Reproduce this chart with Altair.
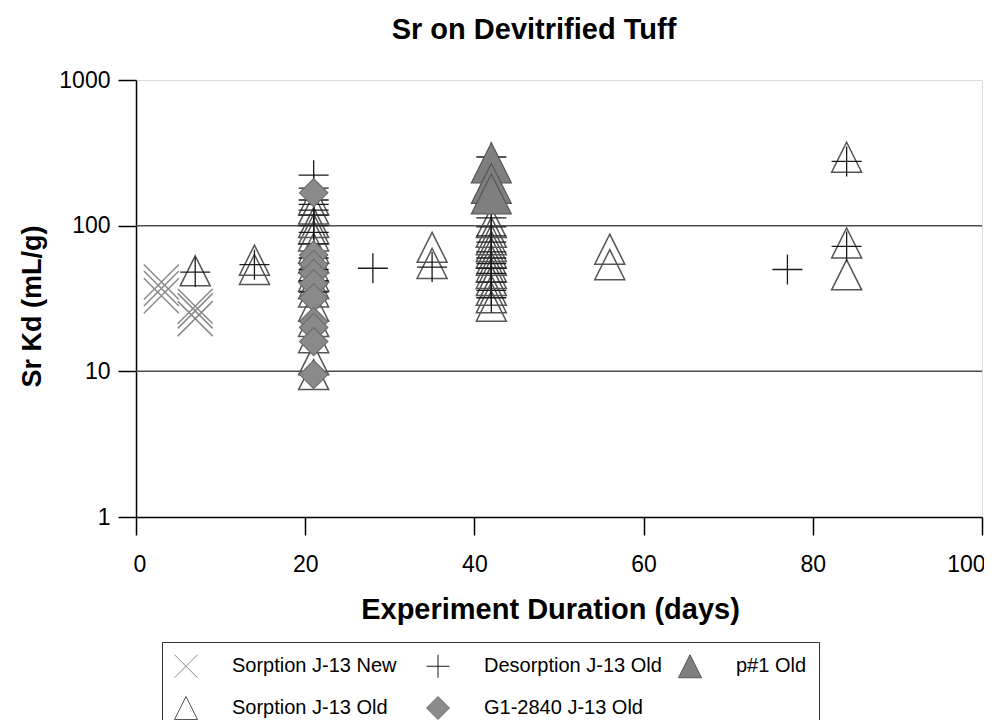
import altair as alt
import pandas as pd

SERIES = ["Sorption J-13 New", "Desorption J-13 Old", "p#1 Old",
          "Sorption J-13 Old", "G1-2840 J-13 Old"]

# Sorption J-13 New (x markers)
sn_days = [3, 3, 3, 7, 7, 7]
sn_kd = [41, 37, 33, 28, 26, 23]

# Sorption J-13 Old (open triangles)
so_days = [7, 14, 14,
           21, 21, 21, 21, 21, 21, 21, 21, 21, 21, 21, 21, 21, 21, 21, 21,
           35, 35,
           42, 42, 42, 42, 42, 42, 42, 42, 42, 42, 42, 42,
           56, 56, 84, 84, 84]
so_kd = [49, 58, 50,
         150, 130, 105, 95, 85, 70, 60, 52, 45, 40, 35, 28, 22, 17, 12, 9.5,
         71, 55,
         105, 90, 80, 72, 65, 58, 52, 47, 42, 36, 32, 28,
         69, 54, 295, 76, 46]

# Desorption J-13 Old (plus markers)
de_days = [7, 14,
           21, 21, 21, 21, 21, 21, 21, 21, 21, 21, 21, 21, 21,
           28, 35,
           42, 42, 42, 42, 42, 42, 42, 42, 42, 42, 42, 42, 42,
           77, 84, 84]
de_kd = [48, 54,
         222, 181, 150, 140, 128, 118, 100, 90, 75, 60, 50, 42, 35,
         51, 52,
         296, 113, 98, 85, 77, 66, 60, 55, 51, 47, 41, 36, 32,
         50, 276, 72]

# G1-2840 J-13 Old (filled diamonds)
g1_days = [21, 21, 21, 21, 21, 21, 21, 21, 21, 21]
g1_kd = [168, 63, 54, 47, 40, 32, 22, 20, 16, 9.5]

# p#1 Old (filled triangles)
p1_days = [42, 42, 42]
p1_kd = [270, 195, 165]

grid_kd = [10, 100]

X_PATH = "M-1,-1L1,1M-1,1L1,-1"
PLUS_PATH = "M-1,0L1,0M0,-1L0,1"
TRI_PATH = "M0,-1L1,1L-1,1Z"
DIA_PATH = "M-1,0L0,-1L1,0L0,1Z"

shape_range = [X_PATH, PLUS_PATH, TRI_PATH, TRI_PATH, DIA_PATH]
fill_range = ["transparent", "transparent", "#7f7f7f", "transparent", "#8a8a8a"]
stroke_range = ["#8a8a8a", "#1a1a1a", "#555555", "#555555", "#6e6e6e"]

FONT = "Liberation Sans"

legend = alt.Legend(
    title=None, orient="none", legendX=26, legendY=562, direction="horizontal",
    columns=3, gridAlign="all", columnPadding=14, rowPadding=14,
    labelOffset=34, labelFont=FONT, labelFontSize=20, labelColor="black",
    symbolSize=529, symbolStrokeWidth=1, padding=12,
    strokeColor="#333333", fillColor="white", labelLimit=400,
)

xs = alt.Scale(domain=[0, 100], nice=False, zero=False)
ys = alt.Scale(type="log", domain=[1, 1000], nice=False)

xaxis = alt.Axis(
    values=[0, 20, 40, 60, 80, 100], grid=False, domainColor="black", domainWidth=1.5,
    tickColor="black", tickWidth=1.5, tickSize=18, labelFont=FONT, labelFontSize=23,
    labelColor="black", labelPadding=18, labelFlush=True, labelFlushOffset=3,
    title="Experiment Duration (days)", titleFont=FONT, titleFontSize=29,
    titleFontWeight="bold", titleColor="black", titleX=414, titleY=101,
    titleBaseline="alphabetic", titleAlign="center",
)
yaxis = alt.Axis(
    values=[1, 10, 100, 1000], format="d", grid=False, domainColor="black",
    domainWidth=1.5, tickColor="black", tickWidth=1.5, tickSize=18, labelFont=FONT,
    labelFontSize=23, labelColor="black", labelPadding=8, labelFlush=False,
    title="Sr Kd (mL/g)", titleFont=FONT, titleFontSize=27, titleFontWeight="bold",
    titleColor="black", titleX=-96, titleY=226, titleBaseline="alphabetic",
    titleAlign="center", titleAngle=-90,
)


def layer(days, kd, name, size, sw):
    df = pd.DataFrame({"day": days, "kd": kd, "series": [name] * len(days)})
    return alt.Chart(df).mark_point(size=size, strokeWidth=sw, opacity=1).encode(
        x=alt.X("day:Q", scale=xs, axis=xaxis),
        y=alt.Y("kd:Q", scale=ys, axis=yaxis),
        shape=alt.Shape("series:N", scale=alt.Scale(domain=SERIES, range=shape_range), legend=legend),
        fill=alt.Fill("series:N", scale=alt.Scale(domain=SERIES, range=fill_range), legend=legend),
        stroke=alt.Stroke("series:N", scale=alt.Scale(domain=SERIES, range=stroke_range), legend=legend),
    )


grid = alt.Chart(pd.DataFrame({"kd": grid_kd})).mark_rule(
    color="#4d4d4d", strokeWidth=1.5
).encode(y=alt.Y("kd:Q", scale=ys, axis=yaxis))

chart = alt.layer(
    grid,
    layer(sn_days, sn_kd, "Sorption J-13 New", 1225, 1.5),
    layer(so_days, so_kd, "Sorption J-13 Old", 900, 1.5),
    layer(de_days, de_kd, "Desorption J-13 Old", 900, 1.3),
    layer(g1_days, g1_kd, "G1-2840 J-13 Old", 800, 1.2),
    layer(p1_days, p1_kd, "p#1 Old", 1600, 1.2),
).properties(
    width=846, height=437,
    title=alt.TitleParams("Sr on Devitrified Tuff", font=FONT, fontSize=29,
                          fontWeight="bold", color="black", anchor="middle",
                          frame="group", dx=-25, offset=24),
    autosize=alt.AutoSizeParams(type="none"),
    padding={"left": 128, "top": 72, "right": 2, "bottom": 203},
).configure_view(stroke=None).configure(background="white")

chart.save("out.html", embed_options={"renderer": "svg", "actions": False})
